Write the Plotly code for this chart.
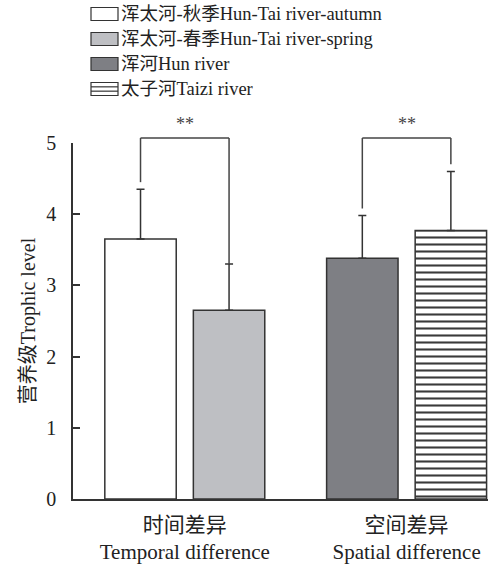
import plotly.graph_objects as go

# ---------------- data ----------------
groups = ["时间差异<br>Temporal difference", "空间差异<br>Spatial difference"]
series_names = ["浑太河-秋季Hun-Tai river-autumn", "浑太河-春季Hun-Tai river-spring",
                "浑河Hun river", "太子河Taizi river"]
series_group = [0, 0, 1, 1]
series_slot = [-1, 1, -1, 1]
means = [3.65, 2.65, 3.38, 3.77]
errors_up = [0.70, 0.65, 0.60, 0.83]
sig_labels = ["**", "**"]
sig_line_y = [5.07, 5.07]
bracket_left_bottom = [4.45, 4.08]
bracket_right_bottom = [3.30, 4.70]
y_ticks = [0, 1, 2, 3, 4, 5]
y_range = [0, 5]

# ---------------- style ----------------
fills = ["white", "#bebfc3", "#7e7f84", "white"]
patterns = ["", "", "", "-"]
edge = "#333333"
FONT = "Liberation Serif, 'Times New Roman', 'Noto Sans CJK SC', serif"
W, H = 488, 566
# plot area in pixels: x 73..488, y 143..499
ML, MT = 73, 143
MR = W - 488
MB = H - 499
slot_offset = 0.1996
bar_w = 0.322

fig = go.Figure()
for i, name in enumerate(series_names):
    x = series_group[i] + series_slot[i] * slot_offset
    fig.add_trace(go.Bar(
        x=[x], y=[means[i]], width=[bar_w], name=name, showlegend=False,
        marker=dict(color=fills[i], line=dict(color=edge, width=1.5),
                    pattern=dict(shape=patterns[i], size=7, solidity=0.3,
                                 fgcolor="#3a3a3a", bgcolor=fills[i], fillmode="replace")),
        error_y=dict(type="data", symmetric=False, array=[errors_up[i]], arrayminus=[0],
                     thickness=1.5, width=4, color=edge),
    ))

def y_dom(v):
    # value on the y scale -> fraction of the y domain
    return (v - y_range[0]) / (y_range[1] - y_range[0])

# significance brackets (x on the data axis, y as domain fraction so they may rise above 5)
for g in range(len(groups)):
    xl = g - slot_offset
    xr = g + slot_offset
    segs = [(xl, bracket_left_bottom[g], xl, sig_line_y[g]),
            (xl, sig_line_y[g], xr, sig_line_y[g]),
            (xr, sig_line_y[g], xr, bracket_right_bottom[g])]
    for (a0, b0, a1, b1) in segs:
        fig.add_shape(type="line", xref="x", yref="y domain",
                      x0=a0, x1=a1, y0=y_dom(b0), y1=y_dom(b1),
                      line=dict(color="#444444", width=1.5))
    fig.add_annotation(x=g, y=y_dom(sig_line_y[g]), xref="x", yref="y domain",
                       text=sig_labels[g], showarrow=False, yanchor="bottom", yshift=2,
                       font=dict(family=FONT, size=18, color="#444444"))

# custom legend (paper coordinates from pixel layout)
pw = W - ML - MR
ph = H - MT - MB
def px_x(px):
    return (px - ML) / pw
def px_y(py):
    return (H - MB - py) / ph

row0, row_step = 14, 25
box_l, box_r, box_h = 91, 118, 13
for i, name in enumerate(series_names):
    cy = row0 + i * row_step
    fig.add_shape(type="rect", xref="paper", yref="paper",
                  x0=px_x(box_l), x1=px_x(box_r), y0=px_y(cy - box_h / 2), y1=px_y(cy + box_h / 2),
                  fillcolor=fills[i], line=dict(color=edge, width=1.2))
    if patterns[i] == "-":
        for k in (1, 2):
            yy = cy - box_h / 2 + k * box_h / 3
            fig.add_shape(type="line", xref="paper", yref="paper",
                          x0=px_x(box_l), x1=px_x(box_r), y0=px_y(yy), y1=px_y(yy),
                          line=dict(color=edge, width=1.2))
    fig.add_annotation(x=px_x(box_r + 1), y=px_y(cy), xref="paper", yref="paper",
                       text=name, showarrow=False, xanchor="left", yanchor="middle",
                       font=dict(family=FONT, size=18.5, color="#222222"))

fig.update_layout(
    width=W, height=H,
    margin=dict(l=ML, r=MR, t=MT, b=MB, autoexpand=False),
    plot_bgcolor="white", paper_bgcolor="white",
    barmode="overlay",
    font=dict(family=FONT, size=20, color="#222222"),
    xaxis=dict(range=[-0.504, 1.367], tickmode="array", tickvals=list(range(len(groups))),
               ticktext=groups, showline=True, linecolor=edge, linewidth=1.5,
               ticks="", showgrid=False, zeroline=False, automargin=False,
               ticklabelstandoff=6,
               tickfont=dict(family=FONT, size=21, color="#222222")),
    yaxis=dict(range=y_range, tickmode="array", tickvals=y_ticks, ticks="inside", ticklen=7,
               tickwidth=1.5, tickcolor=edge, showline=True, linecolor=edge, linewidth=1.5,
               showgrid=False, zeroline=False, ticklabelstandoff=11, automargin=False,
               tickfont=dict(family=FONT, size=20, color="#222222"),
               title=dict(text="营养级Trophic level", standoff=5,
                          font=dict(family=FONT, size=20, color="#222222"))),
)

# remove the page's default body margin so the figure sits at the window's top-left corner
fig.write_html("out.html", config={"displayModeBar": False},
               post_script="document.body.style.margin='0';document.body.style.overflow='hidden';")
